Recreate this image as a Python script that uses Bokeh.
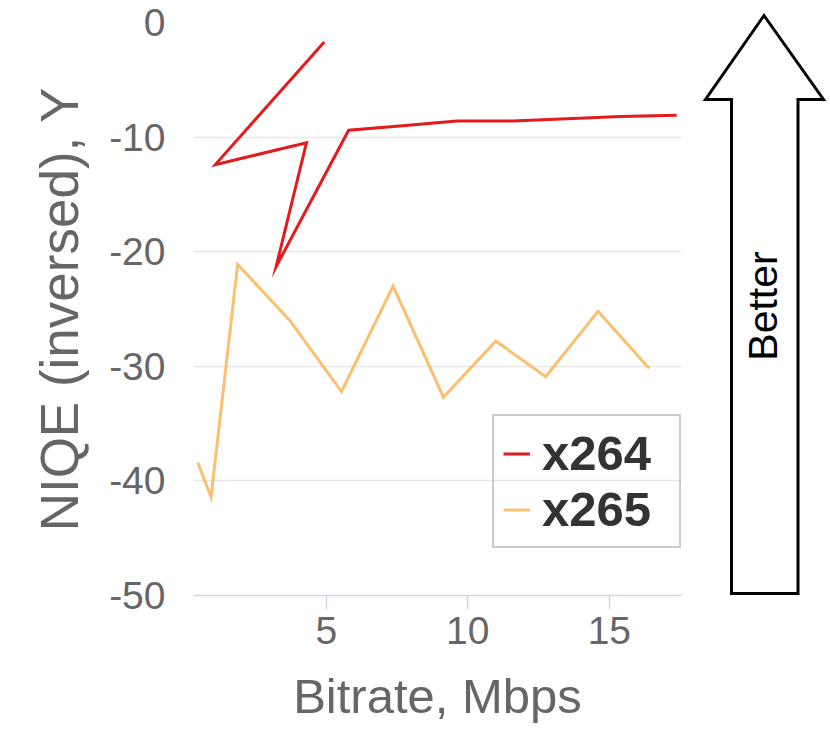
import math
from bokeh.plotting import figure
from bokeh.models import Range1d, FixedTicker, Legend, LegendItem, Label, PrintfTickFormatter
from bokeh.layouts import row
from bokeh.embed import file_html
from bokeh.resources import INLINE

# ---- data ----
x264_bitrate = [4.93, 1.08, 4.30, 3.23, 5.79, 7.70, 9.61, 11.60, 13.50, 15.40, 17.38]
x264_niqe = [-1.7, -12.4, -10.5, -21.3, -9.4, -9.0, -8.6, -8.6, -8.4, -8.2, -8.1]

x265_bitrate = [0.46, 0.93, 1.87, 3.71, 5.54, 7.36, 9.14, 10.99, 12.75, 14.60, 16.41]
x265_niqe = [-38.4, -41.4, -21.1, -26.0, -32.2, -23.0, -32.7, -27.8, -30.9, -25.2, -30.2]

x_ticks = [5, 10, 15]
y_ticks = [-50, -40, -30, -20, -10, 0]
series_names = ["x264", "x265"]
series_colors = ["#e41a1c", "#fdbf6f"]

FONT = "Liberation Sans"
H = 745

p = figure(width=683, height=H,
           x_range=Range1d(0.31, 17.55), y_range=Range1d(-50, 0),
           output_backend="svg", toolbar_location=None,
           min_border_left=193, min_border_right=2,
           min_border_top=22, min_border_bottom=H - 595)
p.frame_align = False
p.outline_line_color = None
p.background_fill_color = "white"
p.border_fill_color = "white"

# x axis
xa = p.xaxis[0]
xa.ticker = FixedTicker(ticks=x_ticks)
xa.formatter = PrintfTickFormatter(format="%d")
xa.axis_line_color = "#ccd6eb"
xa.axis_line_width = 1.5
xa.major_tick_line_color = "#ccd6eb"
xa.major_tick_line_width = 1.5
xa.major_tick_out = 14
xa.major_tick_in = 0
xa.minor_tick_line_color = None
xa.major_label_text_font = FONT
xa.major_label_text_font_size = "39px"
xa.major_label_text_color = "#666666"
xa.major_label_standoff = 7
xa.axis_label = "Bitrate, Mbps"
xa.axis_label_text_font = FONT
xa.axis_label_text_font_size = "49px"
xa.axis_label_text_font_style = "normal"
xa.axis_label_text_color = "#666666"
xa.axis_label_standoff = 22

# y axis
ya = p.yaxis[0]
ya.ticker = FixedTicker(ticks=y_ticks)
ya.formatter = PrintfTickFormatter(format="%d")
ya.axis_line_color = None
ya.major_tick_line_color = None
ya.major_tick_out = 0
ya.major_tick_in = 0
ya.minor_tick_line_color = None
ya.major_label_text_font = FONT
ya.major_label_text_font_size = "39px"
ya.major_label_text_color = "#666666"
ya.major_label_standoff = 28
ya.axis_label = "NIQE (inversed), Y"
ya.axis_label_text_font = FONT
ya.axis_label_text_font_size = "53px"
ya.axis_label_text_font_style = "normal"
ya.axis_label_text_color = "#666666"
ya.axis_label_standoff = 17

p.xgrid.grid_line_color = None
p.ygrid.grid_line_color = "#e6e6e6"
p.ygrid.grid_line_width = 1.5

r264 = p.line(x264_bitrate, x264_niqe, line_color=series_colors[0], line_width=3,
              line_join="miter")
r265 = p.line(x265_bitrate, x265_niqe, line_color=series_colors[1], line_width=3,
              line_join="miter")

legend = Legend(items=[LegendItem(label=series_names[0], renderers=[r264]),
                       LegendItem(label=series_names[1], renderers=[r265])],
                location=(299, 47), orientation="vertical",
                padding=9, spacing=0, margin=0,
                glyph_width=27, glyph_height=55,
                label_height=55, label_width=128, label_standoff=12,
                label_text_font=FONT, label_text_font_size="49px",
                label_text_font_style="bold", label_text_color="#333333",
                label_text_baseline="middle",
                border_line_color="#999999", border_line_width=2,
                background_fill_alpha=0)
p.add_layout(legend)

# ---- "Better" arrow panel ----
p2 = figure(width=145, height=H, x_range=Range1d(0, 145), y_range=Range1d(0, H),
            output_backend="svg", toolbar_location=None,
            x_axis_location=None, y_axis_location=None,
            min_border=0)
p2.frame_align = False
p2.outline_line_color = None
p2.grid.visible = False
arrow_x = [80.5, 140, 114.5, 114.5, 48, 48, 22]
arrow_y = [730, 646, 646, 152, 152, 646, 646]
p2.patch(arrow_x, arrow_y, fill_color="white", line_color="black", line_width=3,
         line_join="miter")
p2.add_layout(Label(x=79, y=439.5, text="Better", angle=math.pi / 2,
                    text_align="center", text_baseline="middle",
                    text_font=FONT, text_font_size="41px", text_color="black"))

layout = row(p, p2)
open("out.html", "w").write(file_html(layout, INLINE))
